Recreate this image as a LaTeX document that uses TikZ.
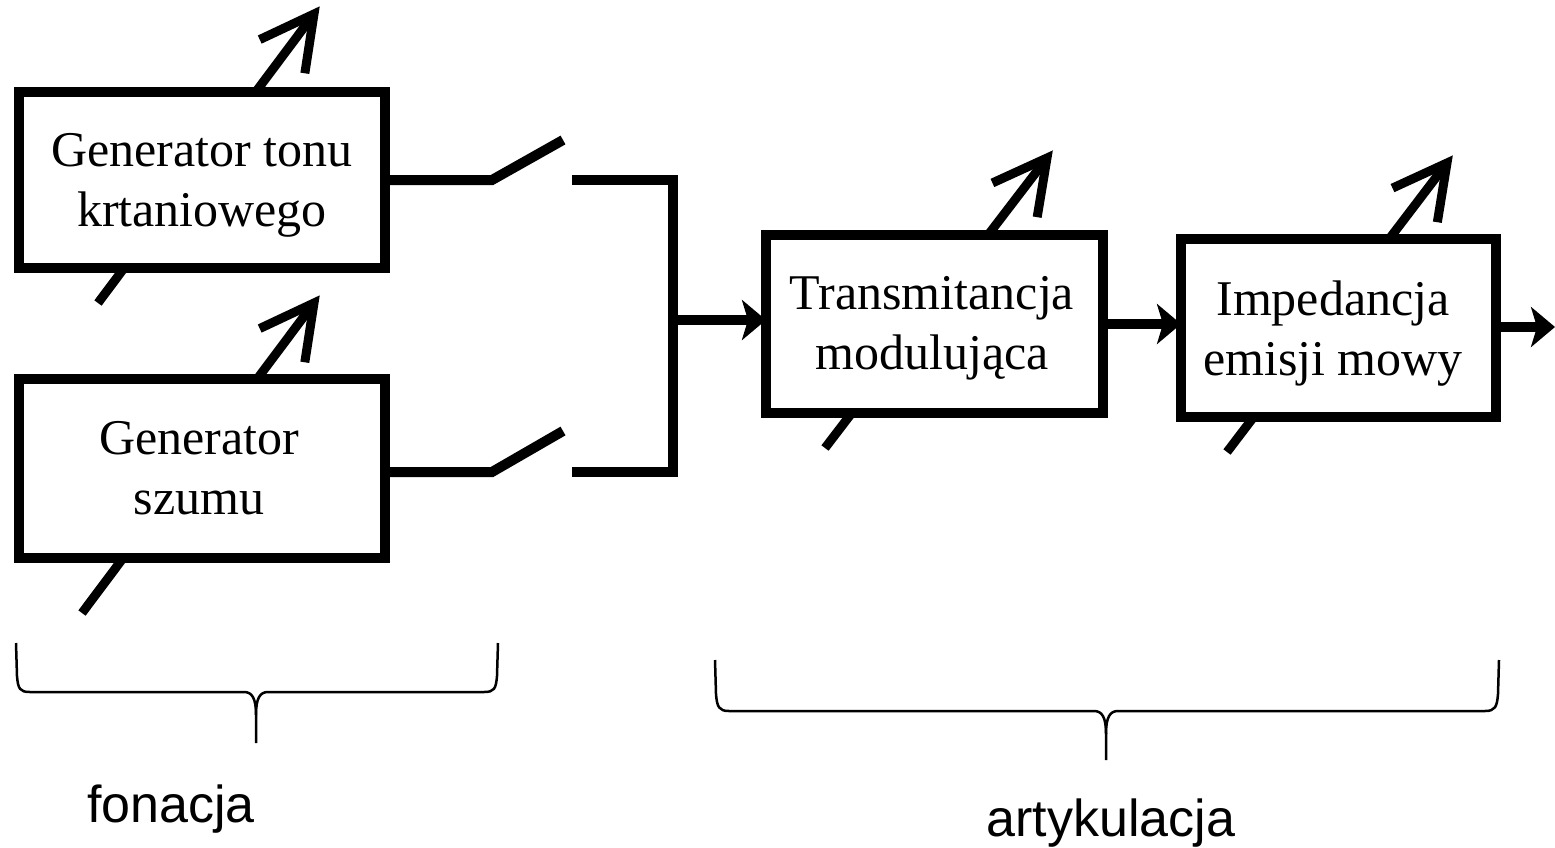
\documentclass[tikz,border=0pt]{standalone}
\usepackage{fontspec}
\setmainfont{Liberation Serif}
\newfontfamily\sansfont{Liberation Sans}
\usetikzlibrary{calc,arrows.meta}
\begin{document}
\begin{tikzpicture}[x=1pt,y=-1pt,
  blk/.style={draw, line width=10pt, fill=white, inner sep=0pt, outer sep=0pt},
  lbl/.style={font=\fontsize{50}{60}\selectfont, align=center, inner sep=0pt},
  capt/.style={font=\sansfont\fontsize{52}{60}\selectfont, inner sep=0pt, anchor=base},
  wire/.style={line width=10pt},
  flow/.style={wire, -{Stealth[length=24pt,width=40pt,inset=6pt]}},
  varl/.style={line width=9pt},
  brc/.style={line width=2.5pt}]

\useasboundingbox (0,0) rectangle (1555,847);

% variable (adjustable) arrows, drawn under the boxes
\coordinate (v1b) at (98,303);   \coordinate (v1t) at (314,14);
\coordinate (v2b) at (82,613);   \coordinate (v2t) at (314,303);
\coordinate (v3b) at (825,448);  \coordinate (v3t) at (1047,158);
\coordinate (v4b) at (1227,452); \coordinate (v4t) at (1447,163);
\foreach \i in {1,2,3,4}{
  \draw[varl] (v\i b) -- (v\i t);
  \draw[varl] ($(v\i t)!60pt!28:(v\i b)$) -- (v\i t) -- ($(v\i t)!60pt!-28:(v\i b)$);
}

% boxes
\node[blk, minimum width=366pt, minimum height=176pt] (gt) at (202,180) {};
\node[blk, minimum width=366pt, minimum height=179pt] (gs) at (202,468.5) {};
\node[blk, minimum width=337pt, minimum height=178pt] (tm) at (934.5,324) {};
\node[blk, minimum width=315pt, minimum height=178pt] (im) at (1338.5,328) {};

\node[lbl] (gtl) at (202,185.5) {Generator tonu\\krtaniowego};
\node[lbl] (gsl) at (199,468) {Generator\\szumu};
\node[lbl] (tml) at (932,328.5) {Transmitancja\\modulująca};
\node[lbl] (iml) at (1333,333.5) {Impedancja\\emisji mowy};

% switches and bus
\coordinate (s1a) at (492,180); \coordinate (s1b) at (563,140);
\coordinate (s2a) at (492,472); \coordinate (s2b) at (563,431);
\coordinate (s1c) at (572,180); \coordinate (s2c) at (572,472);
\coordinate (bt) at (673,180);  \coordinate (bb) at (673,472);
\coordinate (bus) at (673,320);
\coordinate (out) at (1555,327);

\draw[wire] (gt.east) -- (s1a) -- (s1b);
\draw[wire] (gs.east |- s2a) -- (s2a) -- (s2b);
\draw[wire] (s1c) -- (bt) -- (bb) -- (s2c);
\draw[flow] (bus) -- (bus -| tm.west);
\draw[flow] (tm.east) -- (tm.east -| im.west);
\draw[flow] (im.east |- out) -- (out);

% braces
\draw[brc] (16,643) -- (17,676) .. controls (18,689) and (20,692) .. (30,692) -- (244,692) .. controls (252,692) and (256,698) .. (256,715) -- (256,743);
\draw[brc] (256,715) .. controls (256,698) and (260,692) .. (268,692) -- (484,692) .. controls (494,692) and (496,689) .. (497,676) -- (498,643);

\draw[brc] (715,660) -- (716,694) .. controls (717,707) and (719,711) .. (729,711) -- (1094,711) .. controls (1102,711) and (1106,717) .. (1106,734) -- (1106,760);
\draw[brc] (1106,734) .. controls (1106,717) and (1110,711) .. (1118,711) -- (1485,711) .. controls (1495,711) and (1497,707) .. (1498,694) -- (1499,660);

\node[capt] (fon) at (171,822) {fonacja};
\node[capt] (art) at (1111,836) {artykulacja};
\end{tikzpicture}
\end{document}
